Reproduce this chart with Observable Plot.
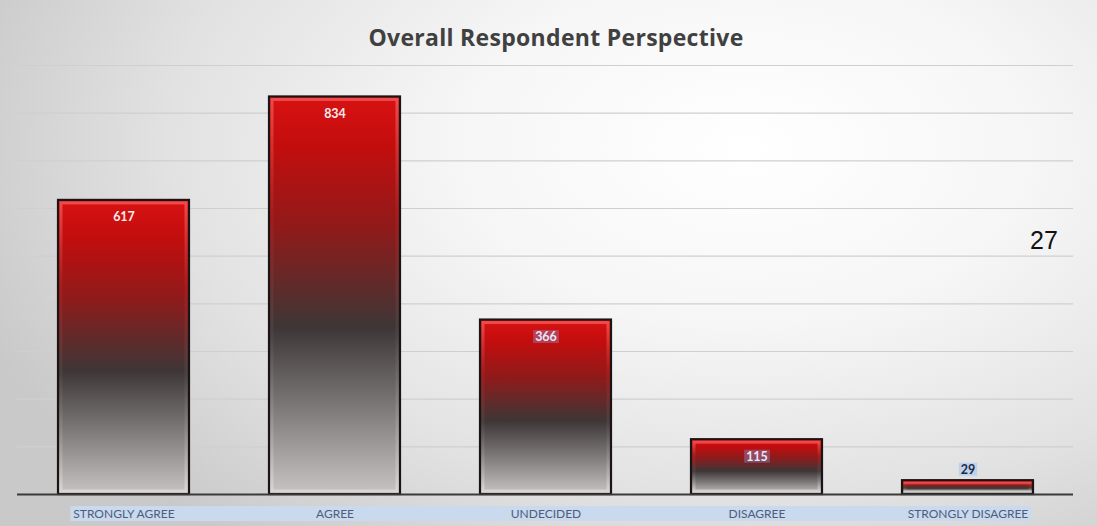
<!DOCTYPE html>
<html>
<head>
<meta charset="utf-8">
<script src="https://cdn.jsdelivr.net/npm/d3@7"></script>
<script src="https://cdn.jsdelivr.net/npm/@observablehq/plot@0.6"></script>
<style>
  html, body { margin: 0; padding: 0; }
  #wrap {
    position: relative; width: 1097px; height: 526px; overflow: hidden;
    background: radial-gradient(ellipse 75% 95% at 68% 28%, #ffffff 0%, #f6f6f6 35%, #e2e2e2 70%, #c9c9c9 100%);
  }
  #title {
    position: absolute; left: 15px; right: 0; top: 21px; height: 32px; line-height: 32px;
    text-align: center; font: bold 23px "Open Sans", Lato, sans-serif; color: #404040; letter-spacing: 0.3px;
  }
  #chart { position: absolute; left: 0; top: 56px; }
  #note {
    position: absolute; left: 1030px; top: 226px; font: 25px "Liberation Sans", Arial, sans-serif; color: #111;
  }
</style>
</head>
<body>
<div id="wrap">
  <div id="title"></div>
  <div id="chart"></div>
  <div id="note"></div>
</div>
<script>
const titleText = "Overall Respondent Perspective";
const noteText = "27";
const categories = ["STRONGLY AGREE", "AGREE", "UNDECIDED", "DISAGREE", "STRONGLY DISAGREE"];
const values = [617, 834, 366, 115, 29];
const gridValues = [100, 200, 300, 400, 500, 600, 700, 800, 900];
const yDomain = [0, 900];

document.getElementById("title").textContent = titleText;
document.getElementById("note").textContent = noteText;

const data = categories.map((c, i) => ({cat: c, value: values[i], idx: i}));

const plot = Plot.plot({
  width: 1097,
  height: 470,
  marginTop: 9,
  marginBottom: 32,
  marginLeft: 17,
  marginRight: 24,
  style: {background: "transparent", fontFamily: "Lato, 'Liberation Sans', sans-serif", fontSize: "12px", color: "#4f5d7a"},
  x: {domain: categories, paddingInner: 0.38, paddingOuter: 0.19, label: null, tickSize: 0, tickPadding: 15},
  y: {domain: yDomain, axis: null},
  marks: [
    Plot.ruleY(gridValues, {stroke: "#cfcfcf", strokeWidth: 1.2}),
    Plot.barY(data, {x: "cat", y: "value", fill: "#c00", stroke: "#1c1414", strokeWidth: 2.2}),
    Plot.barY(data, {x: "cat", y: "value", fill: "none", stroke: "#e84040", strokeWidth: 3, inset: 3}),
    Plot.ruleY([0], {stroke: "#3a3a3a", strokeWidth: 2}),
    Plot.text(data.filter(d => d.value >= 100), {x: "cat", y: "value", text: d => String(d.value), dy: 17,
      fill: d => d.idx < 2 ? "#f6ecec" : "#e6e8f8", fontWeight: "bold", fontSize: 12.5}),
    Plot.text(data.filter(d => d.value < 100), {x: "cat", y: "value", text: d => String(d.value), dy: -11,
      fill: "#1c2b4a", fontWeight: "bold", fontSize: 12.5})
  ],
  color: {type: "identity"}
});

document.getElementById("chart").appendChild(plot);
const svg = d3.select(plot);

// gradients
const defs = svg.insert("defs", ":first-child");
const g1 = defs.append("linearGradient").attr("id", "barGrad").attr("x1", 0).attr("y1", 0).attr("x2", 0).attr("y2", 1);
[[0, "#d81212"], [0.12, "#c40d0d"], [0.33, "#901a1a"], [0.58, "#3e3636"], [0.78, "#7c7878"], [1, "#c8c4c4"]]
  .forEach(([o, c]) => g1.append("stop").attr("offset", o).attr("stop-color", c));
const g2 = defs.append("linearGradient").attr("id", "bevelGrad").attr("x1", 0).attr("y1", 0).attr("x2", 0).attr("y2", 1);
[[0, "#f25050", 0.9], [0.3, "#b02020", 0.5], [0.6, "#555050", 0.4], [1, "#dedada", 0.8]]
  .forEach(([o, c, a]) => g2.append("stop").attr("offset", o).attr("stop-color", c).attr("stop-opacity", a));

const barGroups = svg.selectAll('g[aria-label="bar"]').nodes();
d3.select(barGroups[0]).selectAll("rect").attr("fill", "url(#barGrad)");
d3.select(barGroups[1]).selectAll("rect").attr("stroke", "url(#bevelGrad)");

// text highlights (behind labels)
const textGroups = svg.selectAll('g[aria-label="text"]').nodes();
function highlight(node, color, padX, padY) {
  const b = node.getBBox();
  const parent = node.parentNode;
  const t = node.getAttribute("transform");
  const r = document.createElementNS("http://www.w3.org/2000/svg", "rect");
  r.setAttribute("x", b.x - padX); r.setAttribute("y", b.y + padY);
  r.setAttribute("width", b.width + 2 * padX); r.setAttribute("height", b.height - 2 * padY);
  r.setAttribute("fill", color);
  if (t) r.setAttribute("transform", t);
  parent.insertBefore(r, node);
}
d3.select(textGroups[0]).selectAll("text").each(function() {
  if (this.textContent !== "617" && this.textContent !== "834") highlight(this, "rgba(150,160,230,0.35)", 2, 1);
});
d3.select(textGroups[1]).selectAll("text").each(function() { highlight(this, "#bfd2ec", 2, 1); });

// x-axis label band highlight
const labelNodes = svg.selectAll('g[aria-label^="x-axis"] text').nodes();
if (labelNodes.length) {
  const svgM = plot.getCTM();
  const boxes = labelNodes.map(n => {
    const b = n.getBBox();
    const m = n.getCTM();
    const dx = m && svgM ? m.e - svgM.e : 0, dy = m && svgM ? m.f - svgM.f : 0;
    return {x0: b.x + dx, x1: b.x + b.width + dx, y0: b.y + dy, y1: b.y + b.height + dy};
  });
  const x0 = d3.min(boxes, b => b.x0) - 3, x1 = d3.max(boxes, b => b.x1) + 3;
  const y0 = d3.min(boxes, b => b.y0), y1 = d3.max(boxes, b => b.y1);
  svg.insert("rect", 'g[aria-label^="x-axis"]')
    .attr("x", x0).attr("y", y0).attr("width", x1 - x0).attr("height", y1 - y0)
    .attr("fill", "#c9d9ee");
}
svg.selectAll('g[aria-label^="x-axis"] text').attr("fill", "#4f5d7a");
</script>
</body>
</html>
